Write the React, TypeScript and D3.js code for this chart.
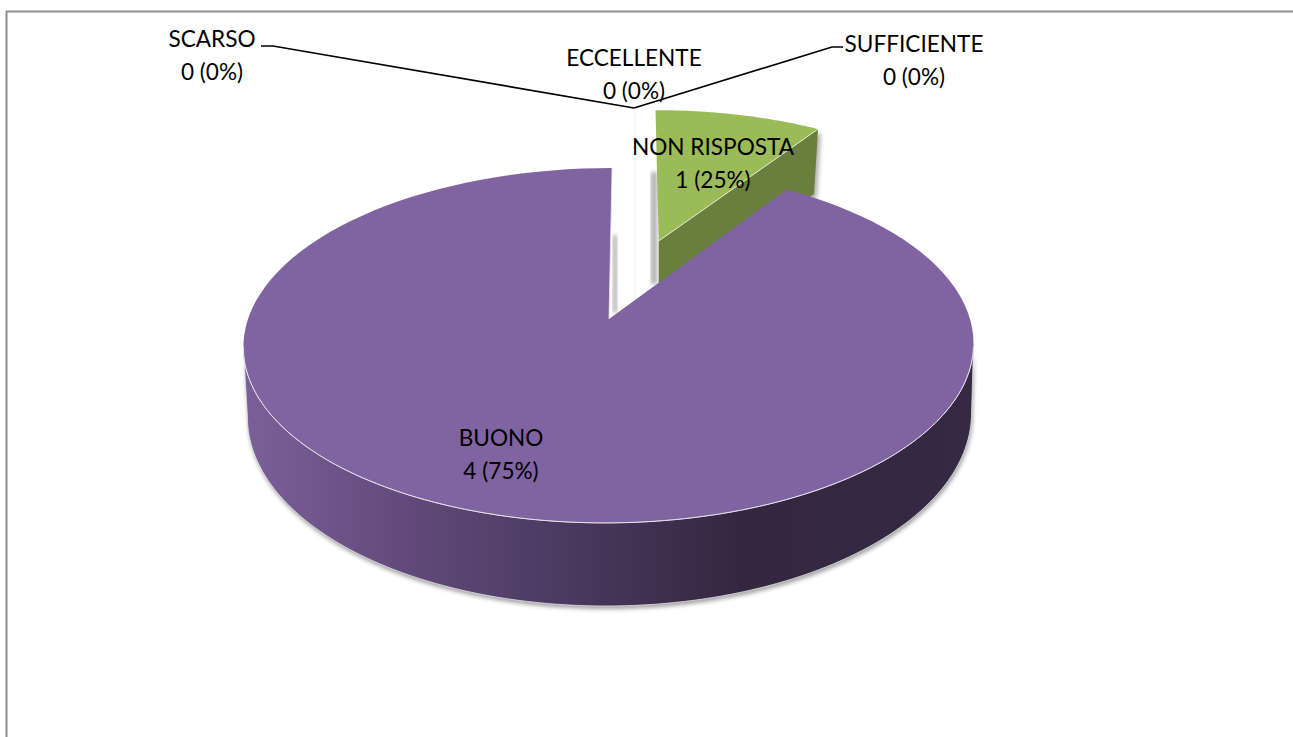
import React from "react";
import * as d3 from "d3";

// Data
const categories = ["ECCELLENTE", "NON RISPOSTA", "BUONO", "SCARSO", "SUFFICIENTE"];
const counts = [0, 1, 4, 0, 0];
const percents = [0, 25, 75, 0, 0];
// Angular share actually drawn by the picture (degrees of sweep)
const drawnSweep = [0, 33, 327, 0, 0];
const sliceColors = ["#ffffff", "#9bbb59", "#8064a2", "#ffffff", "#ffffff"];
const wallColors = ["#ffffff", "#6a7f3e", "#5a4673", "#ffffff", "#ffffff"];

// Layout
const W = 1293, H = 737;
const labelPos: Record<string, [number, number]> = {
  "SCARSO": [212, 46.5],
  "ECCELLENTE": [634, 65.5],
  "SUFFICIENTE": [914, 51.5],
  "NON RISPOSTA": [713, 154.5],
  "BUONO": [501, 445.5],
};
const leaderScarso: [number, number][] = [[261, 46], [273, 46], [634, 108]];
const leaderSuff: [number, number][] = [[634, 108], [832, 47], [843, 47]];

type P = { x0: number; y0: number; B: number; C: number; A: number; k: number };
const topPlane: P = { x0: 609, y0: 319, B: 361, C: -3.5, A: 173.5, k: -0.149 };
const bottomPlane: P = { x0: 610, y0: 386.5, B: 358, C: -3.5, A: 186.8, k: -0.149 };

const project = (p: P, u: number, v: number): [number, number] => {
  const w = 1 + p.k * v;
  return [p.x0 + (p.B * u + p.C * v) / w, p.y0 + (p.A * v) / w];
};
const disc = (th: number, r = 1, ox = 0, oy = 0): [number, number] => [ox + r * Math.sin(th), oy - r * Math.cos(th)];

const pie = d3.pie<number>().sort(null).value((d) => d).startAngle(0).endAngle(2 * Math.PI);
const arcs = pie(drawnSweep);
const line = d3.line();
const steps = (a: number, b: number) => d3.range(0, 121).map((i) => a + ((b - a) * i) / 120);

const explode = 0.5026;
const greenR = 0.985;

function slicePath(a: d3.PieArcDatum<number>, ox: number, oy: number, r = 1) {
  const pts = [project(topPlane, ox, oy), ...steps(a.startAngle, a.endAngle).map((t) => {
    const [u, v] = disc(t, r, ox, oy);
    return project(topPlane, u, v);
  })];
  return line(pts) + "Z";
}

const green = arcs[1];
const purple = arcs[2];
const mid = (green.startAngle + green.endAngle) / 2;
const ox = explode * Math.sin(mid), oy = -explode * Math.cos(mid);

// front wall of the big slice, between the two tangent points of the rim
const rad = (d: number) => (d * Math.PI) / 180;
const wallAngles = steps(rad(99), rad(261));
const wallTop = wallAngles.map((t) => { const [u, v] = disc(t); return project(topPlane, u, v); });
const wallBottom = wallAngles.map((t) => { const [u, v] = disc(t); return project(bottomPlane, u, v); });
const wallPath = line([...wallTop, ...[...wallBottom].reverse()]) + "Z";

// cut wall of the detached slice
const gApex = project(topPlane, ox, oy);
const gc = disc(green.endAngle, greenR, ox, oy);
const gCorner = project(topPlane, gc[0], gc[1]);
const greenDrop = 65;
const greenWall = line([gApex, gCorner, [gCorner[0] - 4, gCorner[1] + greenDrop], [gApex[0], gApex[1] + greenDrop]]) + "Z";

const apex = project(topPlane, 0, 0);
const topStart = (() => { const [u, v] = disc(0); return project(topPlane, u, v); })();

const FONT = "Lato, Carlito, Calibri, sans-serif";
const FS = 22.6;

export default function App() {
  return (
    <svg width={W} height={H} viewBox={`0 0 ${W} ${H}`} style={{ position: "absolute", left: 0, top: 0, background: "#fff" }}>
      <defs>
        <linearGradient id="wall" gradientUnits="userSpaceOnUse" x1={244} x2={974} y1={0} y2={0}>
          <stop offset="0" stopColor="#7a6098" />
          <stop offset="0.2" stopColor="#644c7e" />
          <stop offset="0.42" stopColor="#4d3b62" />
          <stop offset="0.68" stopColor="#352640" />
          <stop offset="1" stopColor="#342a41" />
        </linearGradient>
        <filter id="soft" x="-5%" y="-5%" width="110%" height="110%">
          <feGaussianBlur stdDeviation="2.2" />
        </filter>
      </defs>

      {/* chart frame */}
      <path d={`M6.5 ${H}V11.5H${W}`} fill="none" stroke="#8e8e8e" strokeWidth={2} />

      {/* faint zero-slice seam */}
      <line x1={635} x2={635} y1={110} y2={300} stroke="#efefef" strokeWidth={1} />

      {/* shadows */}
      <path d={wallPath} fill="#555" opacity={0.55} filter="url(#soft)" transform="translate(1,3)" />
      <path d={greenWall} fill="#555" opacity={0.45} filter="url(#soft)" transform="translate(3,3)" />
      <rect x={651} y={172} width={6} height={112} fill="#777" opacity={0.6} filter="url(#soft)" />
      <rect x={613} y={235} width={4} height={78} fill="#777" opacity={0.6} filter="url(#soft)" />

      {/* detached slice */}
      <path d={greenWall} fill={wallColors[1]} />
      <path d={slicePath(green, ox, oy, greenR)} fill={sliceColors[1]} />
      <line x1={gApex[0]} y1={gApex[1]} x2={gCorner[0]} y2={gCorner[1]} stroke="#e3e8d4" strokeWidth={1} />

      {/* big slice */}
      <path d={wallPath} fill="url(#wall)" stroke="#e6e2ea" strokeWidth={0.8} />
      <path d={slicePath(purple, 0, 0)} fill={sliceColors[2]} />
      <path d={line(wallTop) as string} fill="none" stroke="#e6e2ea" strokeWidth={1} />
      <line x1={apex[0]} y1={apex[1]} x2={topStart[0]} y2={topStart[1]} stroke="#e6e2ea" strokeWidth={0.8} />

      {/* leaders */}
      {[leaderScarso, leaderSuff].map((l, i) => (
        <path key={i} d={line(l) as string} fill="none" stroke="#000" strokeWidth={1.7} />
      ))}

      {/* labels */}
      {categories.map((c, i) => {
        const [x, y] = labelPos[c];
        return (
          <text key={c} x={x} y={y} textAnchor="middle" fontFamily={FONT} fontSize={FS} fill="#000">
            <tspan x={x}>{c}</tspan>
            <tspan x={x} dy={33}>{`${counts[i]} (${percents[i]}%)`}</tspan>
          </text>
        );
      })}
    </svg>
  );
}
